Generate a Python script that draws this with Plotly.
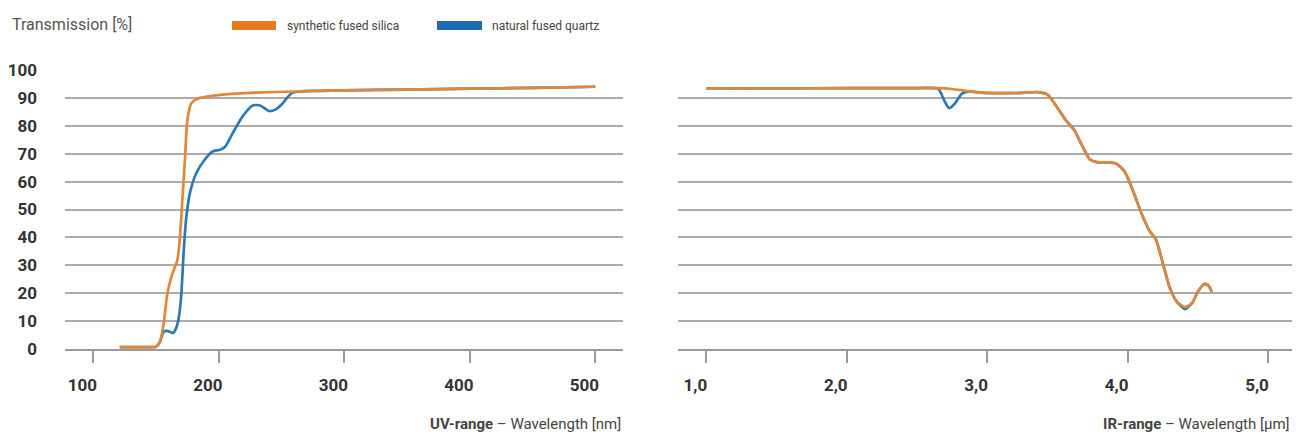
import plotly.graph_objects as go

# ---------------- data ----------------
# UV range, wavelength in nm
uv_nm_syn = [121, 130, 140, 150, 153, 156, 159, 163, 167, 169, 171, 173, 174.5, 176, 178, 181,
             185, 192, 203, 230, 260, 300, 350, 400, 450, 500]
uv_syn = [0.7, 0.7, 0.7, 0.8, 2.5, 9, 20, 27, 32, 40, 54, 68, 80, 85, 88, 89.3,
          90, 90.6, 91.2, 91.9, 92.3, 92.7, 93.0, 93.3, 93.6, 94.0]

uv_nm_nat = [121, 130, 140, 150, 153, 156, 159, 163.5, 166, 168, 170, 172, 174, 177, 182, 189,
             195, 201, 205, 210, 219, 227, 233, 240, 245, 250, 258, 267, 280, 300, 350, 400, 450, 500]
uv_nat = [0.7, 0.7, 0.7, 0.8, 2.5, 6.2, 6.5, 5.8, 7.5, 11, 19, 35, 47, 56, 63, 68,
          70.8, 71.4, 72.5, 76.5, 83.4, 87.3, 87.3, 85.3, 85.8, 87.6, 91.7, 92.4, 92.5, 92.7, 93.0, 93.3, 93.6, 94.0]

# IR range, wavelength in um
ir_um_syn = [1.0, 1.5, 2.0, 2.5, 2.65, 2.75, 2.85, 2.95, 3.1, 3.25, 3.36, 3.43, 3.50, 3.56, 3.62,
             3.68, 3.73, 3.78, 3.85, 3.92, 3.98, 4.04, 4.10, 4.16, 4.20, 4.25, 4.30, 4.35, 4.41,
             4.46, 4.50, 4.545, 4.575, 4.60]
ir_syn = [93.3, 93.4, 93.5, 93.5, 93.5, 93.2, 92.5, 91.9, 91.7, 91.8, 92.1, 91.2, 86.5, 82, 78.5,
          72.5, 68, 67, 66.9, 66.4, 63.5, 56.5, 48.5, 42, 39.5, 31, 22, 17, 15,
          16.5, 20.5, 23.3, 22.8, 20.5]

ir_um_nat = [1.0, 1.5, 2.0, 2.5, 2.65, 2.70, 2.73, 2.77, 2.82, 2.88, 2.95, 3.1, 3.25, 3.36, 3.43,
             3.50, 3.56, 3.62, 3.68, 3.73, 3.78, 3.85, 3.92, 3.98, 4.04, 4.10, 4.16, 4.20, 4.25,
             4.30, 4.35, 4.41, 4.46, 4.50, 4.545, 4.575, 4.60]
ir_nat = [93.3, 93.4, 93.5, 93.5, 93.3, 88.5, 86.3, 88, 91.5, 92.3, 91.9, 91.7, 91.8, 92.1, 91.2,
          86.5, 82, 78.5, 72.5, 68, 67, 66.9, 66.4, 63.5, 56.5, 48.5, 42, 39.5, 31,
          22, 17, 14.3, 16.5, 20.5, 23.3, 22.8, 20.5]

uv_ticks = [100, 200, 300, 400, 500]
ir_ticks = [1.0, 2.0, 3.0, 4.0, 5.0]
ir_tick_labels = ["1,0", "2,0", "3,0", "4,0", "5,0"]
y_ticks = [0, 10, 20, 30, 40, 50, 60, 70, 80, 90, 100]

series_names = ["synthetic fused silica", "natural fused quartz"]

# ---------------- style ----------------
W, H = 1298, 434
ORANGE = "#E2873A"
BLUE = "#2A7AB8"
SW_ORANGE = "#E8791F"
SW_BLUE = "#1F6DB0"
GRID = "#ababab"
FONT = "Roboto, Liberation Sans Narrow, sans-serif"
TXT = "#333333"

fig = go.Figure()
line_kw = dict(shape="spline", smoothing=0.6, width=2.7)

fig.add_trace(go.Scatter(x=uv_nm_nat, y=uv_nat, mode="lines", line=dict(color=BLUE, **line_kw),
                         name=series_names[1], xaxis="x", yaxis="y", showlegend=False))
fig.add_trace(go.Scatter(x=uv_nm_syn, y=uv_syn, mode="lines", line=dict(color=ORANGE, **line_kw),
                         name=series_names[0], xaxis="x", yaxis="y", showlegend=False))
fig.add_trace(go.Scatter(x=ir_um_nat, y=ir_nat, mode="lines", line=dict(color=BLUE, **line_kw),
                         name=series_names[1], xaxis="x2", yaxis="y2", showlegend=False))
fig.add_trace(go.Scatter(x=ir_um_syn, y=ir_syn, mode="lines", line=dict(color=ORANGE, **line_kw),
                         name=series_names[0], xaxis="x2", yaxis="y2", showlegend=False))

def px_x(p):
    return p / W

top, bottom = 70, 349
def px_y(p):
    return (bottom - p) / (bottom - top)

xaxis_common = dict(
    showgrid=False, zeroline=False, showline=True, linecolor="#9a9a9a", linewidth=1.5,
    ticks="outside", ticklen=12, tickcolor="#9a9a9a", tickwidth=1.5,
    tickfont=dict(family=FONT, size=17, color=TXT, weight="bold"),
    ticklabelstandoff=8, ticklabelshift=-11,
)
yaxis_common = dict(
    range=[0, 100], tickvals=y_ticks, showgrid=True, gridcolor=GRID, gridwidth=1.5,
    zeroline=False, showline=False, ticks="",
)

fig.update_layout(
    width=W, height=H,
    margin=dict(l=0, r=0, t=top, b=H - bottom),
    paper_bgcolor="white", plot_bgcolor="white",
    showlegend=False,
    xaxis=dict(domain=[px_x(65), px_x(623)], range=[77.4, 522.1], tickvals=uv_ticks,
               anchor="y", **xaxis_common),
    xaxis2=dict(domain=[px_x(678), px_x(1292)], range=[0.798, 5.171], tickvals=ir_ticks,
                ticktext=ir_tick_labels, anchor="y2", **xaxis_common),
    yaxis=dict(anchor="x", showticklabels=True, ticklabelstandoff=27,
               tickfont=dict(family=FONT, size=17, color=TXT, weight="bold"), **yaxis_common),
    yaxis2=dict(anchor="x2", showticklabels=False, **yaxis_common),
)

annotations = [
    dict(text="Transmission [%]", x=px_x(10), y=px_y(25), xanchor="left", yanchor="middle",
         font=dict(family=FONT, size=16, color="#555555")),
    dict(text=series_names[0], x=px_x(285), y=px_y(25.5), xanchor="left", yanchor="middle",
         font=dict(family=FONT, size=12, color="#444444")),
    dict(text=series_names[1], x=px_x(490), y=px_y(25.5), xanchor="left", yanchor="middle",
         font=dict(family=FONT, size=12, color="#444444")),
    dict(text="<b>UV-range</b> – Wavelength [nm]", x=px_x(623), y=px_y(424), xanchor="right",
         yanchor="middle", font=dict(family=FONT, size=15, color="#444444")),
    dict(text="<b>IR-range</b> – Wavelength [µm]", x=px_x(1292), y=px_y(424), xanchor="right",
         yanchor="middle", font=dict(family=FONT, size=15, color="#444444")),
]
for a in annotations:
    a.update(xref="paper", yref="paper", showarrow=False)
fig.update_layout(annotations=annotations)

fig.update_layout(shapes=[
    dict(type="rect", xref="paper", yref="paper", x0=px_x(232), x1=px_x(276), y0=px_y(30), y1=px_y(21),
         fillcolor=SW_ORANGE, line=dict(width=0)),
    dict(type="rect", xref="paper", yref="paper", x0=px_x(437), x1=px_x(482), y0=px_y(30), y1=px_y(21),
         fillcolor=SW_BLUE, line=dict(width=0)),
])

fig.write_html(
    "out.html",
    config={"displayModeBar": False},
    post_script="document.body.style.margin='0';document.body.style.padding='0';"
                "document.body.style.overflow='hidden';",
)
